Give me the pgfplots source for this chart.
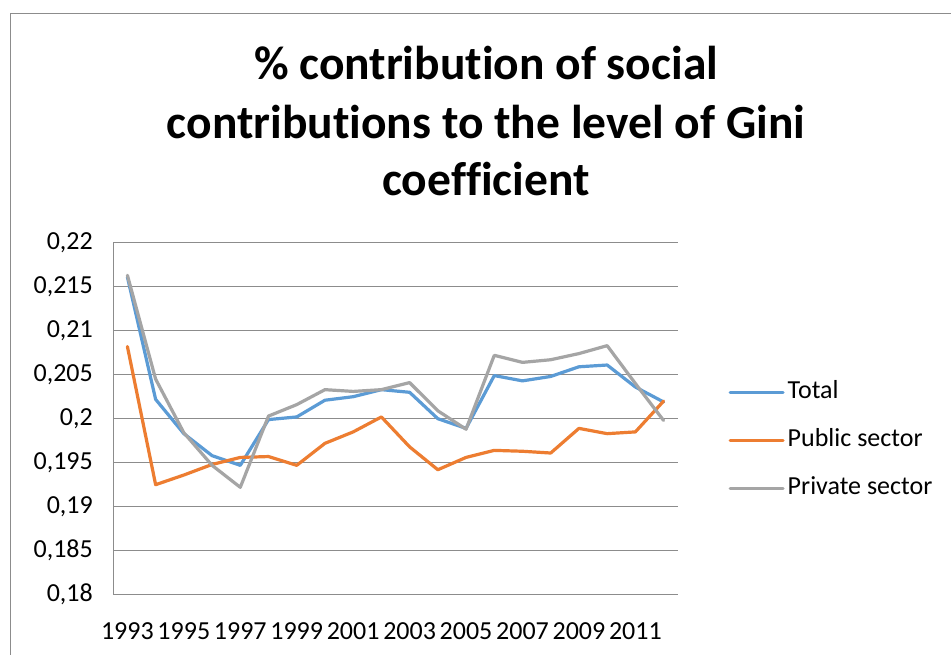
\documentclass[border=0pt]{standalone}
\usepackage{pgfplots}
\pgfplotsset{compat=1.18}
\usepackage{pgfplotstable}
\usepackage{fontspec}
\setmainfont{Carlito}[Ligatures=NoCommon]

\definecolor{totalblue}{HTML}{5B9BD5}
\definecolor{publicorange}{HTML}{ED7D31}
\definecolor{privategray}{HTML}{A5A5A5}
\definecolor{gridgray}{HTML}{8C8C8C}

% Share of social contributions in the Gini coefficient, by sector
\pgfplotstableread{
year total  public private
1993 0.2161 0.2082 0.2163
1994 0.2022 0.1925 0.2045
1995 0.1983 0.1936 0.1984
1996 0.1958 0.1948 0.1947
1997 0.1947 0.1956 0.1922
1998 0.1999 0.1957 0.2003
1999 0.2002 0.1947 0.2016
2000 0.2021 0.1972 0.2033
2001 0.2025 0.1985 0.2031
2002 0.2033 0.2002 0.2033
2003 0.2030 0.1968 0.2041
2004 0.2000 0.1942 0.2009
2005 0.1989 0.1956 0.1988
2006 0.2049 0.1964 0.2072
2007 0.2043 0.1963 0.2064
2008 0.2048 0.1961 0.2067
2009 0.2059 0.1989 0.2074
2010 0.2061 0.1983 0.2083
2011 0.2036 0.1985 0.2040
2012 0.2019 0.2020 0.1998
}\ginidata

\begin{document}
\begin{tikzpicture}
\useasboundingbox (0,0) rectangle (951bp,655bp);
\fill[white] (0,0) rectangle (951bp,655bp);
% chart frame
\draw[gridgray, line width=1.2bp] (10.5bp,0) -- (10.5bp,641.7bp) -- (951bp,641.7bp);
% title
\begin{scope}[every node/.style={anchor=base, font=\fontsize{47.5bp}{58bp}\selectfont\bfseries, inner sep=0pt}]
\node at (486bp,575.7bp) {\% contribution of social};
\node at (486bp,516.7bp) {contributions to the level of Gini};
\node at (486bp,459.3bp) {coefficient};
\end{scope}

\begin{axis}[
  at={(113.3bp,60.3bp)}, anchor=south west,
  scale only axis,
  width=564.4bp, height=352bp,
  xmin=1992.5, xmax=2012.5,
  ymin=0.18, ymax=0.22,
  xtick={1993,1995,...,2011},
  ytick={0.18,0.185,...,0.2201},
  xticklabel style={/pgf/number format/1000 sep={}},
  yticklabel style={/pgf/number format/.cd, use comma, fixed, precision=3},
  /pgf/number format/assume math mode=true,
  tick label style={font=\fontsize{26bp}{31bp}\selectfont, text=black},
  xticklabel shift=24bp,
  yticklabel shift=17bp,
  major tick length=0pt,
  ymajorgrids,
  grid style={gridgray, line width=1bp},
  separate axis lines,
  axis x line*=bottom, axis y line*=left,
  x axis line style={draw=none, -},
  y axis line style={gridgray, line width=1bp, -},
  legend style={
    at={(1.0897,0.4385)}, anchor=west,
    draw=none, fill=none, inner sep=0pt,
    font=\fontsize{26bp}{31bp}\selectfont,
    row sep=24bp,
    nodes={inner sep=0pt, text height=18bp, text depth=6bp},
  },
  legend cell align=left,
  legend image code/.code={\draw[#1] (0bp,0bp) -- (53bp,0bp);},
  every axis plot/.append style={line width=3.2bp, line join=round, line cap=round},
]
\addplot[totalblue] table[x=year, y=total] {\ginidata};
\addlegendentry{\hspace{3bp}Total}
\addplot[publicorange] table[x=year, y=public] {\ginidata};
\addlegendentry{\hspace{3bp}Public sector}
\addplot[privategray] table[x=year, y=private] {\ginidata};
\addlegendentry{\hspace{3bp}Private sector}
\end{axis}
\end{tikzpicture}
\end{document}
